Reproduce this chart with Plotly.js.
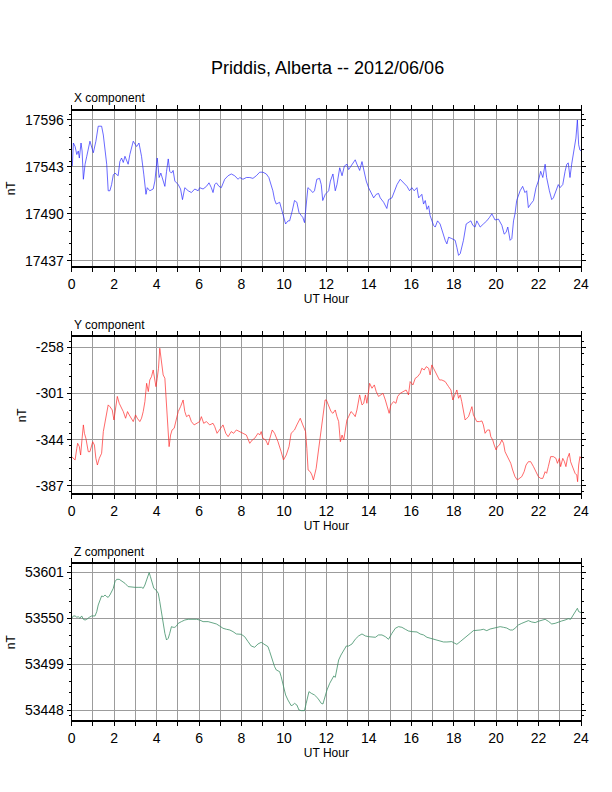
<!DOCTYPE html>
<html>
<head>
<meta charset="utf-8">
<script src="https://cdn.plot.ly/plotly-3.0.1.min.js"></script>
<style>
  html, body { margin: 0; padding: 0; background: #fff; }
  #chart { width: 612px; height: 792px; }
</style>
</head>
<body>
<div id="chart"></div>
<script>
// Priddis magnetometer, 2012/06/06 (UT hour, nT)
const xHours = [0.03,0.08,0.16,0.24,0.31,0.36,0.44,0.49,0.55,0.63,0.71,0.86,1.02,1.14,1.25,1.41,1.49,1.65,1.72,1.80,
  1.88,1.96,2.04,2.19,2.27,2.35,2.43,2.51,2.66,2.74,2.90,3.06,3.17,3.29,3.40,3.50,3.56,3.68,3.84,3.92,
  4.03,4.12,4.20,4.28,4.39,4.47,4.55,4.62,4.70,4.78,4.86,5.02,5.13,5.22,5.33,5.49,5.64,5.80,5.96,6.03,
  6.19,6.35,6.47,6.58,6.66,6.74,6.82,6.94,7.05,7.21,7.37,7.52,7.68,7.84,7.92,8.07,8.23,8.39,8.54,8.70,
  8.86,9.01,9.17,9.29,9.40,9.48,9.56,9.64,9.80,9.87,9.98,10.08,10.19,10.27,10.39,10.50,10.61,10.71,10.82,10.89,
  10.97,11.05,11.13,11.21,11.36,11.44,11.55,11.68,11.76,11.83,11.95,12.03,12.11,12.19,12.31,12.42,12.50,12.63,12.74,12.85,
  12.97,13.05,13.21,13.36,13.44,13.57,13.68,13.76,13.88,13.99,14.07,14.23,14.35,14.46,14.54,14.70,14.85,14.93,15.09,15.20,
  15.33,15.48,15.64,15.80,15.92,16.03,16.14,16.27,16.35,16.50,16.58,16.66,16.74,16.82,16.89,16.97,17.05,17.13,17.24,17.36,
  17.49,17.60,17.68,17.76,17.91,18.07,18.15,18.23,18.31,18.38,18.46,18.59,18.70,18.81,18.90,19.01,19.09,19.25,19.40,19.56,
  19.69,19.80,19.95,20.11,20.27,20.38,20.47,20.55,20.66,20.74,20.82,20.89,20.97,21.13,21.25,21.36,21.44,21.52,21.63,21.76,
  21.88,21.99,22.10,22.20,22.31,22.38,22.51,22.62,22.70,22.82,22.93,23.01,23.14,23.25,23.33,23.40,23.48,23.56,23.67,23.76,
  23.83,23.89,23.95,24.00];
const xValues = [17544,17570,17566,17557,17561,17553,17570,17561,17529,17546,17555,17572,17559,17572,17589,17589,17579,17546,17516,17516,
  17523,17534,17536,17533,17549,17553,17548,17555,17546,17557,17572,17566,17570,17555,17534,17512,17519.5,17516,17518,17527,
  17553,17531,17536,17529,17521,17538,17552,17538,17536,17539,17527,17523,17518,17506,17519.5,17516,17514,17518,17516,17519.5,
  17518,17521,17525,17519.5,17514,17523,17525,17521,17519.5,17529,17533,17535,17533,17529,17531,17529,17531,17531,17530,17533,
  17537,17537,17535,17531,17523,17516,17506,17501,17503,17497,17486,17478.5,17482,17482,17493,17505,17503,17491.5,17488,17486,
  17480,17501,17519.5,17518,17514,17516,17529,17530,17523,17505,17512,17514,17516,17527,17535,17516,17523,17542,17533,17544,
  17546,17540,17546,17551,17546,17539,17549,17540,17527,17519.5,17516,17508,17512,17513,17508,17503,17496,17506,17508,17516,
  17523,17529,17525,17521,17516,17519.5,17516,17519.5,17508,17512,17501,17505,17495,17499,17488,17482,17477,17475,17482,17478.5,
  17467,17460,17456,17463.5,17462,17460,17452,17443,17445,17452,17460,17478.5,17480,17482,17477,17475,17482,17475,17478.5,17482,
  17486,17490,17483,17484,17477,17467,17469,17475,17460,17462,17482,17490,17505,17516,17521,17514,17516,17497,17501,17505,
  17519.5,17527,17538,17531,17546,17531,17516,17506,17508,17516,17523,17519.5,17523,17538,17546,17547.5,17531,17546,17564,17575.5,
  17596,17568,17562,17561];

const yHours = [0.00,0.08,0.16,0.24,0.28,0.36,0.42,0.49,0.55,0.60,0.67,0.78,0.86,0.99,1.07,1.14,1.21,1.30,1.41,1.49,
  1.57,1.65,1.72,1.80,1.91,1.99,2.07,2.15,2.24,2.32,2.43,2.54,2.63,2.71,2.82,2.90,3.01,3.09,3.21,3.29,
  3.37,3.45,3.53,3.61,3.68,3.76,3.84,3.92,3.97,4.03,4.09,4.15,4.23,4.31,4.39,4.47,4.55,4.59,4.66,4.73,
  4.83,4.91,5.02,5.13,5.25,5.33,5.41,5.53,5.64,5.77,5.88,6.03,6.11,6.22,6.35,6.50,6.66,6.74,6.85,6.97,
  7.13,7.26,7.37,7.52,7.63,7.76,7.92,8.07,8.23,8.39,8.51,8.62,8.78,8.86,8.93,9.01,9.14,9.25,9.36,9.45,
  9.56,9.72,9.87,9.98,10.11,10.24,10.34,10.50,10.61,10.77,10.89,11.02,11.08,11.14,11.24,11.32,11.39,11.52,11.60,11.71,
  11.83,11.94,12.00,12.11,12.22,12.31,12.42,12.50,12.58,12.66,12.74,12.82,12.89,12.97,13.05,13.16,13.25,13.36,13.44,13.57,
  13.68,13.76,13.84,13.91,14.04,14.15,14.26,14.35,14.46,14.57,14.67,14.78,14.85,14.96,15.04,15.17,15.28,15.36,15.48,15.64,
  15.76,15.87,15.95,16.08,16.19,16.30,16.42,16.50,16.61,16.71,16.82,16.89,16.97,17.05,17.13,17.21,17.33,17.44,17.60,17.76,
  17.87,17.96,18.07,18.15,18.23,18.31,18.38,18.46,18.54,18.62,18.70,18.78,18.86,18.93,19.01,19.09,19.22,19.33,19.40,19.48,
  19.59,19.69,19.75,19.84,19.91,20.00,20.06,20.16,20.27,20.35,20.42,20.50,20.58,20.69,20.78,20.89,21.00,21.10,21.21,21.32,
  21.41,21.52,21.63,21.76,21.88,21.99,22.10,22.20,22.31,22.38,22.46,22.57,22.70,22.82,22.89,22.98,23.04,23.14,23.22,23.29,
  23.36,23.45,23.51,23.61,23.72,23.80,23.84,23.89,23.95,24.00];
const yValues = [-359.7,-361.3,-362.8,-352,-347.3,-350.4,-358.2,-342.7,-330.2,-338,-342.7,-355.1,-355.1,-345.8,-348.9,-361.3,-367.5,-361.3,-356.6,-336.4,
  -328.7,-320.9,-311.6,-313.2,-316.3,-325.6,-314.7,-303.7,-310.1,-313.2,-317.8,-324,-317.8,-320.9,-324,-327.1,-320.9,-324,-327.1,-324,
  -317.8,-308.5,-291.5,-299.2,-288.4,-285.3,-279.1,-289.9,-294.6,-286.8,-277.5,-258.9,-271.3,-283.7,-286.8,-308.5,-333.3,-350.4,-339.6,-334.9,
  -333.3,-327.1,-317.8,-313.2,-307,-317.8,-322.5,-320.9,-327.1,-330.2,-328.7,-327.1,-322.5,-328.7,-327.1,-330.2,-328.7,-331.8,-338,-334.9,
  -330.2,-338,-341.1,-336.4,-338,-334.9,-336.4,-338,-339.6,-347.3,-344.2,-342.7,-338,-339.6,-336.4,-342.7,-344.2,-348.9,-339.6,-334.9,
  -338,-345.8,-355.1,-362.8,-358.2,-350.4,-338,-334.9,-330.2,-324,-330.2,-336.4,-352,-372.1,-373.7,-376.8,-381.4,-370.6,-358.2,-342.7,
  -320.9,-307,-307,-311.6,-317.8,-319.4,-316.3,-322.5,-327.1,-345.8,-339.6,-344.2,-334.9,-325.6,-322.5,-317.8,-319.4,-322.5,-316.3,-302.3,
  -311.6,-310.1,-302.3,-310.1,-291.5,-296.1,-293,-299.2,-303.7,-302.3,-300.8,-307,-311.6,-319.4,-311.6,-308.5,-310.1,-303.7,-300.8,-299.2,
  -297.7,-302.3,-289.9,-293,-286.8,-285.3,-282.2,-277.5,-279.1,-276,-277.5,-283.7,-274.4,-277.5,-280.6,-282.2,-288.4,-288.4,-289.9,-294.6,
  -297.7,-307,-302.3,-297.7,-305.4,-302.3,-308.5,-317.8,-325.6,-324,-322.5,-317.8,-313.2,-320.9,-324,-327.1,-327.1,-326.5,-330.2,-338,
  -334.9,-334.9,-341.1,-344.2,-348.9,-353.5,-350.4,-348.9,-344.2,-347.3,-355.1,-358.2,-361.3,-365.9,-372.1,-378.3,-381.4,-379.9,-378.3,-373.7,
  -367.5,-364.4,-364.4,-369,-373.7,-378.3,-379.9,-379.9,-373.7,-375.2,-369,-359.7,-359.7,-361.3,-365.9,-361.3,-369,-361.3,-364.4,-369,
  -361.3,-356.6,-364.4,-370.6,-375.2,-376.8,-383,-367.5,-359.7,-361.3];

const zHours = [0.00,0.08,0.16,0.24,0.31,0.39,0.47,0.55,0.63,0.71,0.83,0.94,1.10,1.18,1.25,1.33,1.41,1.49,1.57,1.65,
  1.72,1.80,1.88,1.96,2.04,2.12,2.24,2.35,2.51,2.66,2.82,2.98,3.13,3.29,3.37,3.45,3.53,3.61,3.65,3.71,
  3.81,3.87,3.97,4.08,4.15,4.23,4.31,4.39,4.47,4.55,4.62,4.70,4.78,4.86,4.94,5.02,5.17,5.33,5.49,5.64,
  5.88,6.03,6.19,6.43,6.58,6.82,6.97,7.13,7.29,7.45,7.60,7.76,7.99,8.15,8.31,8.46,8.62,8.78,8.93,9.09,
  9.25,9.33,9.45,9.56,9.64,9.80,9.87,9.98,10.08,10.19,10.34,10.42,10.50,10.61,10.71,10.82,10.97,11.05,11.18,11.29,
  11.44,11.60,11.76,11.84,11.95,12.03,12.16,12.27,12.35,12.42,12.50,12.58,12.69,12.82,12.94,13.05,13.21,13.36,13.52,13.68,
  13.84,13.99,14.15,14.31,14.46,14.62,14.78,14.93,15.09,15.25,15.40,15.56,15.72,15.87,16.03,16.27,16.42,16.58,16.74,16.89,
  17.05,17.21,17.36,17.52,17.68,17.91,17.99,18.15,18.31,18.46,18.62,18.78,18.93,19.09,19.25,19.40,19.56,19.72,19.87,20.03,
  20.19,20.35,20.50,20.66,20.78,20.89,21.05,21.21,21.36,21.52,21.68,21.84,21.99,22.15,22.31,22.46,22.62,22.78,22.93,23.09,
  23.25,23.40,23.51,23.61,23.72,23.83,23.89,24.00];
const zValues = [53549.9,53552.5,53552.5,53551,53551.7,53549.9,53552.5,53548.8,53548,53548.8,53551,53552.5,53552.5,53557.3,53564.7,53570.3,53574.7,53574,53575.8,53574,
  53573.2,53575.8,53579.5,53583.2,53590.6,53593.2,53593.2,53591.7,53588.8,53585.1,53584.3,53584.3,53584.3,53584.3,53583.2,53586.9,53592.5,53598,53600.6,53596.2,
  53588.8,53583.2,53581.4,53577.7,53568.4,53555.4,53544.3,53533.2,53525.8,53527.7,53533.2,53540.6,53539.9,53539.9,53541.4,53544.3,53546.2,53548,53548.8,53549.1,
  53548.8,53548,53546.2,53546.2,53545.1,53543.6,53541.4,53538.8,53537.7,53536.9,53535.1,53532.5,53532.1,53529.5,53524,53519.1,53517.7,53521.4,53523.2,53521,
  53518.4,53512.9,53503.6,53496.2,53492.5,53490.6,53485.1,53474,53464.7,53459.1,53452.9,53453.6,53455.4,53453.6,53448,53447.3,53447.3,53455.4,53468.4,53466.6,
  53464.7,53461,53455.4,53454.7,53464.7,53470.3,53477.7,53483.2,53485.8,53484.3,53494.3,53503.6,53509.1,53514.7,53519.1,53519.1,53521.4,53526.6,53530.3,53532.5,
  53530.3,53529.5,53529.5,53528.8,53531.4,53531.4,53529.5,53526.6,53533.2,53538.8,53540.6,53539.9,53537.7,53535.8,53535.1,53534.7,53532.5,53531.4,53528.8,53527.7,
  53526.9,53525.8,53524.7,53523.6,53523.6,53524,53522.9,53521,53524,53527.3,53530.3,53533.2,53536.2,53536.2,53536.9,53537.7,53536.2,53538,53538.8,53539.9,
  53540.6,53539.9,53539.1,53536.9,53536.9,53538.8,53542.5,53544.3,53546.2,53547.3,53545.8,53545.1,53546.6,53548,53548.8,53546.6,53543.6,53544.3,53545.8,53546.9,
  53548,53549.5,53548.8,53552.5,53557.3,53561,53557.3,53556.2];

// labelled y ticks of each panel
const xTicks = [17437, 17490, 17543, 17596];
const yTicks = [-387, -344, -301, -258];
const zTicks = [53448, 53499, 53550, 53601];

const GRID = '#9c9c9c';
const FONT = 'Liberation Sans, Arial, Helvetica, sans-serif';
const X_DOMAIN = [71.7 / 612, 581 / 612];

function hourAxis(anchor) {
    return {
        domain: X_DOMAIN,
        anchor: anchor,
        range: [0, 24],
        tickmode: 'linear', tick0: 0, dtick: 2,
        ticks: 'outside', ticklen: 4, tickwidth: 1, tickcolor: '#000',
        showline: true, linecolor: '#000', linewidth: 2, mirror: 'allticks',
        showgrid: true, gridcolor: GRID, gridwidth: 1,
        minor: { tickmode: 'linear', tick0: 0, dtick: 1, ticks: 'outside', ticklen: 4, tickcolor: '#000',
                 showgrid: true, gridcolor: GRID, gridwidth: 1 },
        zeroline: false,
        tickfont: { size: 14, color: '#000' },
        title: { text: 'UT Hour', font: { size: 12, color: '#000' }, standoff: 4 },
        fixedrange: true
    };
}

function fieldAxis(anchor, top, bottom, range, ticks) {
    const step = ticks[1] - ticks[0];
    return {
        domain: [1 - bottom / 792, 1 - top / 792],
        anchor: anchor,
        range: range,
        tickmode: 'array', tickvals: ticks, ticktext: ticks.map(String),
        ticks: 'outside', ticklen: 4, tickwidth: 1, tickcolor: '#000',
        showline: true, linecolor: '#000', linewidth: 1, mirror: 'allticks',
        showgrid: true, gridcolor: GRID, gridwidth: 1,
        minor: { tickmode: 'linear', tick0: ticks[0] + step / 8, dtick: step / 4, ticks: 'outside', ticklen: 2,
                 tickcolor: '#000', showgrid: false },
        zeroline: false,
        tickfont: { size: 14, color: '#000' },
        title: { text: 'nT', font: { size: 12, color: '#000' }, standoff: 6 },
        fixedrange: true
    };
}

const traces = [
    { x: xHours, y: xValues, xaxis: 'x', yaxis: 'y', mode: 'lines',
      line: { color: '#2a2aff', width: 0.7 }, hoverinfo: 'skip' },
    { x: yHours, y: yValues, xaxis: 'x2', yaxis: 'y2', mode: 'lines',
      line: { color: '#ff2a2a', width: 0.7 }, hoverinfo: 'skip' },
    { x: zHours, y: zValues, xaxis: 'x3', yaxis: 'y3', mode: 'lines',
      line: { color: '#3f8f67', width: 0.8 }, hoverinfo: 'skip' }
];

function panelLabel(text, yPix) {
    return { text: text, xref: 'paper', yref: 'paper', x: 72 / 612, y: 1 - yPix / 792,
             xanchor: 'left', yanchor: 'middle', showarrow: false,
             font: { size: 12, color: '#000' } };
}

const layout = {
    width: 612, height: 792,
    margin: { l: 0, r: 0, t: 0, b: 0 },
    paper_bgcolor: '#fff', plot_bgcolor: '#fff',
    font: { family: FONT, color: '#000' },
    showlegend: false,
    xaxis: hourAxis('y'),
    xaxis2: hourAxis('y2'),
    xaxis3: hourAxis('y3'),
    yaxis: fieldAxis('x', 110.7, 266, [17431, 17606.5], xTicks),
    yaxis2: fieldAxis('x2', 337.3, 493.3, [-393.8, -248.7], yTicks),
    yaxis3: fieldAxis('x3', 564.3, 720, [53436.9, 53609.9], zTicks),
    annotations: [
        { text: 'Priddis, Alberta -- 2012/06/06', xref: 'paper', yref: 'paper',
          x: 327.5 / 612, y: 1 - 68 / 792, xanchor: 'center', yanchor: 'middle',
          showarrow: false, font: { size: 18, color: '#000' } },
        panelLabel('X component', 98.3),
        panelLabel('Y component', 325),
        panelLabel('Z component', 552.3)
    ]
};

Plotly.newPlot('chart', traces, layout, { displayModeBar: false, staticPlot: true });
</script>
</body>
</html>
